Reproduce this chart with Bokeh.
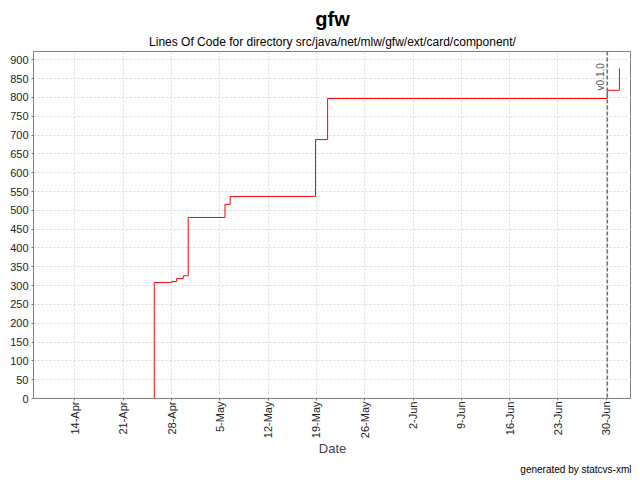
import pandas as pd
from math import pi
from bokeh.plotting import figure
from bokeh.models import FixedTicker, Span, Label, Title, Range1d
from bokeh.embed import file_html
from bokeh.resources import INLINE

# ---- data ----
dates = ["2004-04-25 12:00", "2004-04-25 12:00", "2004-04-28 01:00", "2004-04-28 18:00",
         "2004-04-29 17:00", "2004-04-30 10:00", "2004-05-05 18:00", "2004-05-06 12:00",
         "2004-05-18 21:00", "2004-05-20 15:00", "2004-06-30 04:00", "2004-07-01 22:00"]
loc = [0, 308, 311, 319, 326, 481, 516, 537, 688, 797, 819, 877]

tick_dates = ["2004-04-14", "2004-04-21", "2004-04-28", "2004-05-05", "2004-05-12", "2004-05-19",
              "2004-05-26", "2004-06-02", "2004-06-09", "2004-06-16", "2004-06-23", "2004-06-30"]
tick_labels = ["14-Apr", "21-Apr", "28-Apr", "5-May", "12-May", "19-May",
               "26-May", "2-Jun", "9-Jun", "16-Jun", "23-Jun", "30-Jun"]
y_ticks = list(range(0, 901, 50))

version_name = "v0.1.0"
version_date = "2004-06-30 04:00"

x_start = "2004-04-08 00:00"
x_end = "2004-07-03 16:00"
y_max = 922


def ms(s):
    return int(pd.Timestamp(s).value // 10**6)


xs = [pd.Timestamp(d) for d in dates]
tick_ms = [ms(d) for d in tick_dates]

FONT = "Liberation Sans"

p = figure(frame_width=598, frame_height=347, x_axis_type="datetime", output_backend="svg",
           toolbar_location=None, x_range=Range1d(ms(x_start), ms(x_end)),
           y_range=Range1d(0, y_max))
p.title = None
p.min_border_left = 33
p.min_border_right = 0
p.min_border_top = 51
p.min_border_bottom = 0
p.outline_line_color = "#808080"
p.outline_line_width = 1
p.background_fill_color = "white"
p.border_fill_color = "white"

sub = Title(text="Lines Of Code for directory src/java/net/mlw/gfw/ext/card/component/",
            align="center", text_font=FONT, text_font_size="12px", text_font_style="normal",
            text_color="#000000", standoff=5)
main = Title(text="gfw", align="center", text_font=FONT, text_font_size="20px",
             text_font_style="bold", text_color="#000000", standoff=2)
p.add_layout(sub, "above")
p.add_layout(main, "above")

credit = Title(text="generated by statcvs-xml", align="right", text_font=FONT,
               text_font_size="10px", text_font_style="normal", text_color="#000000",
               standoff=4)
p.add_layout(credit, "below")

# axes
p.xaxis.ticker = FixedTicker(ticks=tick_ms)
p.xaxis.major_label_overrides = {t: l for t, l in zip(tick_ms, tick_labels)}
p.xaxis.major_label_orientation = pi / 2
p.xaxis.axis_label = "Date"
p.xaxis.axis_label_text_font = FONT
p.xaxis.axis_label_text_font_size = "13px"
p.xaxis.axis_label_text_font_style = "normal"
p.xaxis.axis_label_standoff = 0
p.yaxis.ticker = FixedTicker(ticks=y_ticks)
for ax in (p.xaxis, p.yaxis):
    ax.major_label_text_font = FONT
    ax.major_label_text_font_size = "11px"
    ax.major_label_text_color = "#222222"
    ax.axis_line_color = "#808080"
    ax.major_tick_line_color = "#808080"
    ax.major_tick_out = 2
    ax.major_tick_in = 0
    ax.minor_tick_line_color = None
    ax.major_label_standoff = 3
p.xaxis.major_label_standoff = 1

p.xgrid.ticker = FixedTicker(ticks=tick_ms)
p.ygrid.ticker = FixedTicker(ticks=y_ticks)
for g in (p.xgrid, p.ygrid):
    g.grid_line_color = "#d8d8d8"
    g.grid_line_dash = "2 2"
    g.grid_line_width = 1

p.step(xs, loc, mode="after", line_color="#ff0000", line_width=1)

vms = ms(version_date)
p.add_layout(Span(location=vms, dimension="height", line_color="#707070",
                  line_dash="4 2", line_width=1.5))
p.add_layout(Label(x=vms, y=891, text=version_name, angle=pi / 2, text_align="right",
                   text_baseline="bottom", x_offset=-1, text_font=FONT,
                   text_font_size="10px", text_color="#555555"))

open("out.html", "w").write(file_html(p, INLINE))
